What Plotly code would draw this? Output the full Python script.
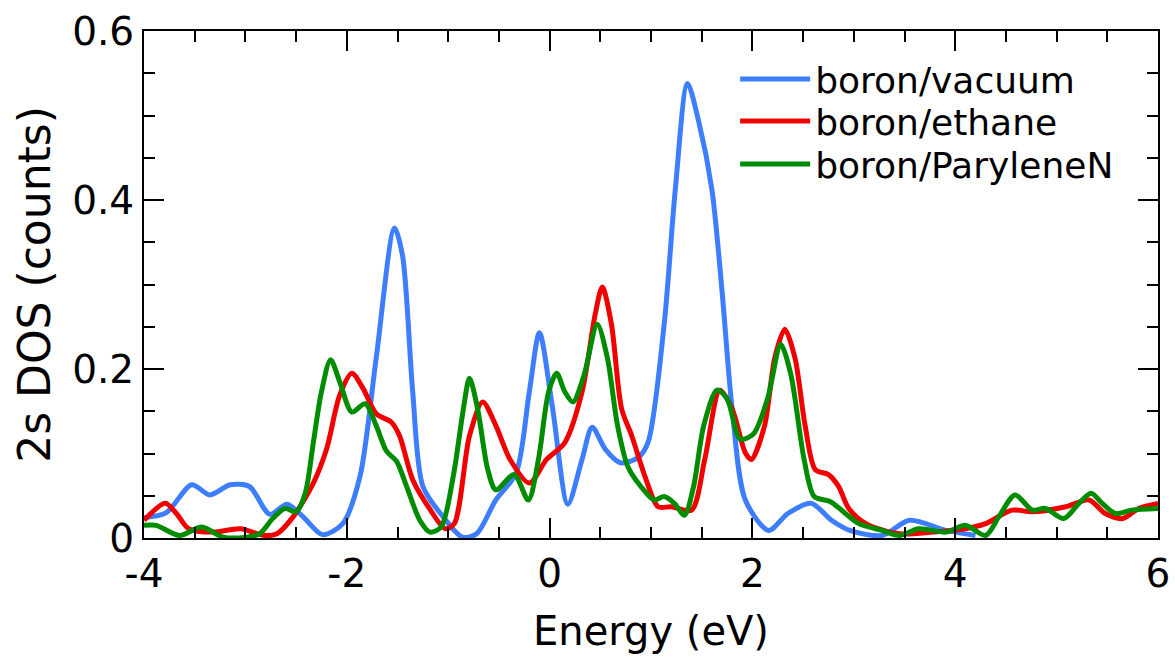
import plotly.graph_objects as go

# boron/vacuum
vac_x = [-4.00, -3.78, -3.53, -3.35, -3.15, -2.96, -2.76, -2.59, -2.43, -2.24, -2.04, -1.87, -1.71, -1.53,
         -1.45, -1.35, -1.25, -1.05, -0.86, -0.72, -0.53, -0.33, -0.20, -0.10, 0.03, 0.18, 0.32, 0.42,
         0.55, 0.70, 0.87, 0.97, 1.13, 1.24, 1.36, 1.47, 1.60, 1.70, 1.80, 1.93, 2.16, 2.35, 2.58, 2.78,
         2.96, 3.28, 3.55, 3.91, 4.20]
vac_y = [0.024, 0.030, 0.063, 0.051, 0.063, 0.061, 0.028, 0.040, 0.025, 0.004, 0.017, 0.073, 0.213, 0.367,
         0.334, 0.173, 0.061, 0.025, 0.001, 0.005, 0.045, 0.077, 0.173, 0.243, 0.153, 0.040, 0.093, 0.131,
         0.105, 0.089, 0.095, 0.113, 0.253, 0.413, 0.538, 0.493, 0.413, 0.293, 0.153, 0.045, 0.009, 0.029,
         0.041, 0.021, 0.009, 0.003, 0.021, 0.009, 0.003]

# boron/ethane
eth_x = [-4.00, -3.79, -3.68, -3.56, -3.32, -3.05, -2.82, -2.69, -2.53, -2.33, -2.20, -2.07, -1.95, -1.84,
         -1.71, -1.56, -1.48, -1.35, -1.18, -1.03, -0.94, -0.79, -0.66, -0.53, -0.39, -0.20, -0.03, 0.15,
         0.32, 0.45, 0.52, 0.61, 0.71, 0.81, 0.94, 1.07, 1.20, 1.40, 1.53, 1.68, 1.80, 1.93, 1.99, 2.12,
         2.22, 2.32, 2.42, 2.52, 2.62, 2.75, 2.85, 2.95, 3.12, 3.45, 3.78, 4.10, 4.30, 4.56, 4.76, 5.09,
         5.32, 5.48, 5.65, 5.81, 6.00]
eth_y = [0.021, 0.041, 0.029, 0.011, 0.007, 0.011, 0.003, 0.005, 0.025, 0.065, 0.105, 0.169, 0.195, 0.177,
         0.147, 0.137, 0.121, 0.069, 0.034, 0.011, 0.017, 0.121, 0.161, 0.133, 0.093, 0.065, 0.093, 0.113,
         0.173, 0.265, 0.297, 0.253, 0.153, 0.121, 0.073, 0.037, 0.037, 0.033, 0.093, 0.175, 0.153, 0.101,
         0.093, 0.133, 0.213, 0.247, 0.213, 0.133, 0.081, 0.075, 0.061, 0.035, 0.017, 0.005, 0.007, 0.011,
         0.017, 0.033, 0.031, 0.037, 0.045, 0.029, 0.023, 0.035, 0.041]

# boron/ParyleneN
par_x = [-4.00, -3.88, -3.65, -3.43, -3.22, -2.99, -2.86, -2.73, -2.61, -2.50, -2.41, -2.33, -2.25, -2.16,
         -2.07, -1.95, -1.82, -1.71, -1.61, -1.51, -1.41, -1.28, -1.18, -1.07, -0.95, -0.85, -0.79, -0.71,
         -0.61, -0.53, -0.35, -0.21, -0.11, -0.01, 0.07, 0.15, 0.23, 0.34, 0.47, 0.57, 0.67, 0.77, 0.90,
         1.03, 1.13, 1.23, 1.33, 1.42, 1.52, 1.65, 1.75, 1.88, 2.01, 2.15, 2.28, 2.38, 2.51, 2.61, 2.77,
         3.05, 3.28, 3.45, 3.64, 3.91, 4.10, 4.30, 4.43, 4.59, 4.76, 4.89, 5.07, 5.22, 5.34, 5.45, 5.58,
         5.74, 6.00]
par_y = [0.015, 0.015, 0.003, 0.013, 0.001, 0.001, 0.005, 0.023, 0.035, 0.031, 0.053, 0.113, 0.173, 0.211,
         0.185, 0.149, 0.159, 0.133, 0.103, 0.091, 0.061, 0.021, 0.007, 0.013, 0.073, 0.153, 0.189, 0.153,
         0.081, 0.057, 0.075, 0.045, 0.093, 0.173, 0.195, 0.173, 0.161, 0.193, 0.253, 0.213, 0.133, 0.085,
         0.061, 0.045, 0.049, 0.041, 0.027, 0.061, 0.133, 0.175, 0.165, 0.117, 0.123, 0.165, 0.229, 0.193,
         0.093, 0.049, 0.043, 0.017, 0.009, 0.003, 0.011, 0.007, 0.015, 0.003, 0.025, 0.051, 0.033, 0.035,
         0.023, 0.041, 0.053, 0.041, 0.029, 0.033, 0.035]

x_ticks = [-4, -2, 0, 2, 4, 6]
y_ticks = [0, 0.2, 0.4, 0.6]
y_tick_text = ["0", "0.2", "0.4", "0.6"]

FONT = "DejaVu Sans, sans-serif"

series = [("boron/vacuum", vac_x, vac_y, "#3d7eff", "legend", 0.905),
          ("boron/ethane", eth_x, eth_y, "#f00000", "legend2", 0.8225),
          ("boron/ParyleneN", par_x, par_y, "#008c00", "legend3", 0.7377)]

fig = go.Figure()
for name, xs, ys, col, lg, _ in series:
    fig.add_trace(go.Scatter(x=xs, y=ys, name=name, mode="lines", legend=lg, showlegend=True,
                             line=dict(color=col, width=5, shape="spline", smoothing=0.8)))

axis_common = dict(showline=True, linecolor="black", linewidth=2, mirror="allticks",
                   ticks="inside", ticklen=20, tickwidth=2, tickcolor="black",
                   showgrid=False, zeroline=False, automargin=False,
                   tickfont=dict(family=FONT, size=39, color="black"))

fig.update_xaxes(range=[-4, 6], tickvals=x_ticks, ticktext=[str(v) for v in x_ticks],
                 minor=dict(ticks="inside", dtick=0.5, ticklen=11, tickwidth=2, tickcolor="black"),
                 title=dict(text="Energy (eV)", font=dict(family=FONT, size=40, color="black"), standoff=22),
                 **axis_common)
fig.update_yaxes(range=[0, 0.6], tickvals=y_ticks, ticktext=y_tick_text,
                 minor=dict(ticks="inside", dtick=0.05, ticklen=11, tickwidth=2, tickcolor="black"),
                 title=dict(text="2s DOS (counts)", font=dict(family=FONT, size=44, color="black"), standoff=8),
                 **axis_common)

legend_layout = {}
for name, xs, ys, col, lg, ypos in series:
    legend_layout[lg] = dict(x=0.583, y=ypos, xanchor="left", yanchor="middle",
                             font=dict(family=FONT, size=36, color="black"),
                             bgcolor="rgba(0,0,0,0)", itemwidth=70, borderwidth=0, visible=True)

# plot area at x 144..1158, y 31..538 of the 1175x662 page
fig.update_layout(
    width=1175, height=662,
    margin=dict(l=144, r=17, t=31, b=124, autoexpand=False),
    paper_bgcolor="white", plot_bgcolor="white",
    showlegend=True,
    **legend_layout,
)

fig.write_html("out.html", config={"displayModeBar": False},
               post_script="document.body.style.margin='0px';document.body.style.overflow='hidden';")
